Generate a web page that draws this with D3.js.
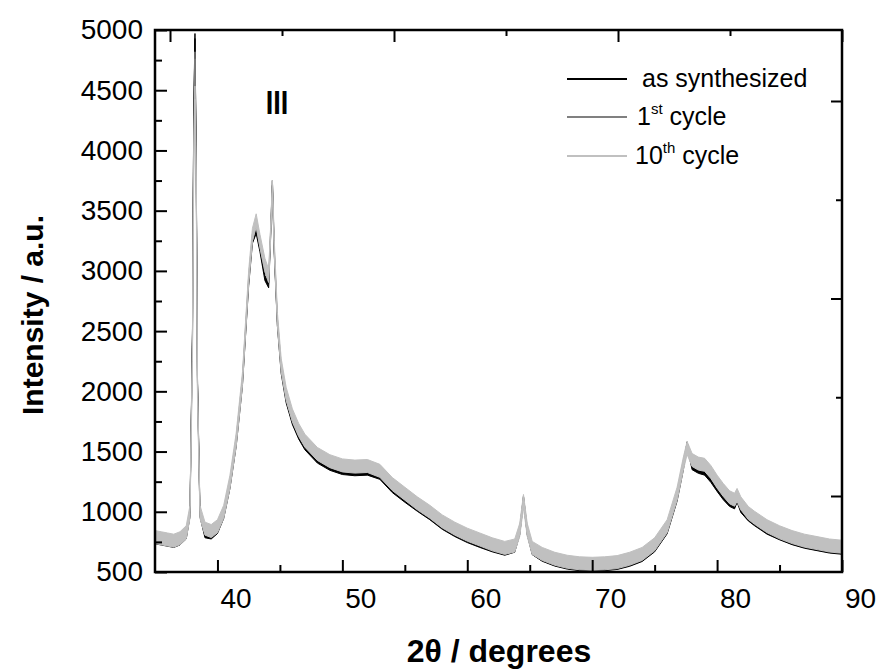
<!DOCTYPE html>
<html>
<head>
<meta charset="utf-8">
<script src="https://cdn.jsdelivr.net/npm/d3@7"></script>
<style>
    body { margin: 0; background: #fff; }
    svg { display: block; font-family: "Liberation Sans", Arial, sans-serif; }
    .tick-label { font-size: 28px; fill: #000; }
    .axis-title { font-size: 30px; font-weight: bold; fill: #000; }
    .legend-text { font-size: 25px; fill: #000; }
    .tick line { stroke: #000; stroke-width: 2px; }
</style>
</head>
<body>
<svg id="chart" width="882" height="671"></svg>
<script>
// diffraction angles (2 theta, degrees)
const angles = [35.0, 35.5, 36.0, 36.5, 37.0, 37.5, 37.8, 38.0, 38.1, 38.2,
    38.3, 38.4, 38.6, 39.0, 39.5, 40.0, 40.5, 41.0, 41.5, 42.0,
    42.5, 42.8, 43.1, 43.4, 43.8, 44.1, 44.25, 44.4, 44.55, 44.8,
    45.1, 45.5, 46.0, 46.5, 47.0, 48.0, 49.0, 50.0, 51.0, 52.0,
    53.0, 54.0, 55.0, 56.0, 57.0, 58.0, 59.0, 60.0, 61.0, 62.0,
    63.0, 63.8, 64.2, 64.5, 64.8, 65.2, 66.0, 67.0, 68.0, 69.0,
    70.0, 71.0, 72.0, 73.0, 74.0, 75.0, 76.0, 76.8, 77.3, 77.6,
    78.0, 78.5, 79.0, 79.5, 80.0, 80.5, 81.0, 81.4, 81.6, 81.9,
    82.5, 83.0, 84.0, 85.0, 86.0, 87.0, 88.0, 89.0, 90.0];

const asSynthesized = [755, 745, 735, 725, 745, 795, 980, 2500, 4300, 4950,
    3900, 2100, 980, 805, 795, 840, 965, 1215, 1565, 2065,
    2900, 3250, 3330, 3180, 2940, 2880, 3280, 3730, 3150, 2560,
    2170, 1925, 1745, 1625, 1535, 1425, 1365, 1330, 1320, 1325,
    1290, 1180, 1100, 1025, 955, 875, 815, 765, 725, 688,
    660, 685, 830, 1110, 830, 665, 610, 570, 545, 532,
    528, 532, 542, 568, 608, 688, 838, 1110, 1370, 1560,
    1370, 1340, 1325, 1265, 1190, 1120, 1065, 1045, 1100, 1015,
    945, 905, 835, 788, 748, 718, 698, 678, 668];

const cycle1 = [775, 765, 755, 745, 765, 815, 990, 2400, 4100, 4790,
    3800, 2050, 990, 845, 825, 865, 985, 1235, 1590, 2090,
    2930, 3280, 3400, 3220, 3020, 2930, 3300, 3720, 3180, 2580,
    2200, 1960, 1780, 1660, 1570, 1460, 1400, 1365, 1355, 1360,
    1320, 1210, 1130, 1050, 980, 900, 845, 795, 755, 715,
    688, 710, 845, 1100, 845, 690, 638, 598, 573, 560,
    556, 560, 570, 598, 638, 718, 868, 1140, 1395, 1545,
    1410, 1380, 1370, 1310, 1230, 1160, 1100, 1080, 1130, 1050,
    972, 932, 864, 815, 775, 745, 725, 705, 695];

const cycle10 = [790, 780, 770, 760, 780, 830, 1000, 2300, 3900, 4480,
    3700, 2000, 1000, 860, 840, 880, 1000, 1250, 1600, 2100,
    2950, 3300, 3420, 3250, 3050, 2960, 3300, 3700, 3200, 2600,
    2220, 1980, 1800, 1680, 1590, 1480, 1420, 1385, 1375, 1380,
    1340, 1230, 1150, 1070, 1000, 920, 860, 810, 770, 730,
    700, 720, 850, 1090, 850, 700, 650, 610, 585, 572,
    568, 572, 582, 610, 650, 730, 880, 1150, 1400, 1530,
    1430, 1400, 1390, 1330, 1250, 1180, 1120, 1100, 1140, 1070,
    990, 950, 880, 830, 790, 760, 740, 720, 710];

const seriesNames = ['as synthesized', '1', '10'];
const seriesSup = ['', 'st', 'th'];
const seriesColors = ['#000000', '#808080', '#c0c0c0'];

const xMajor = [40, 50, 60, 70, 80, 90];
const xMinor = [45, 55, 65, 75, 85];
const yMajor = d3.range(500, 5001, 500);
const yMinor = d3.range(750, 5000, 500);

class XrdChart {

    constructor(_config) {
        this.config = {
            parentElement: _config.parentElement,
            containerWidth: 882,
            containerHeight: 671,
            margin: { top: 30, right: 40, bottom: 99, left: 155 }
        };
        this.initVis();
    }

    initVis() {
        let vis = this;
        const m = vis.config.margin;
        vis.width = vis.config.containerWidth - m.left - m.right;
        vis.height = vis.config.containerHeight - m.top - m.bottom;

        vis.svg = d3.select(vis.config.parentElement);
        vis.chart = vis.svg.append('g')
            .attr('transform', `translate(${m.left},${m.top})`);

        vis.xScale = d3.scaleLinear().domain([35, 90]).range([0, vis.width]);
        vis.yScale = d3.scaleLinear().domain([500, 5000]).range([vis.height, 0]);

        // the frame ticks on top and right do not follow the bottom/left scales in the original
        vis.topScale = d3.scaleLinear().domain([28.66, 90]).range([0, vis.width]);
        vis.rightScale = d3.scaleLinear().domain([0, 4]).range([466, 71]);

        vis.chart.append('clipPath').attr('id', 'plot-clip')
            .append('rect').attr('width', vis.width).attr('height', vis.height);

        vis.renderVis();
    }

    renderVis() {
        let vis = this;

        // noisy traces drawn as thin bands, light grey on top
        const band = (h) => d3.area()
            .x((d, i) => vis.xScale(angles[i]))
            .y0(d => vis.yScale(d) + h)
            .y1(d => vis.yScale(d) - h);

        const plot = vis.chart.append('g').attr('clip-path', 'url(#plot-clip)');
        [asSynthesized, cycle1, cycle10].forEach((s, k) => {
            plot.append('path')
                .datum(s)
                .attr('fill', seriesColors[k])
                .attr('stroke', seriesColors[k])
                .attr('stroke-width', 1)
                .attr('d', band([2.5, 3.5, 6.5][k]));
        });

        // helper: tick marks pointing into the plot, labels drawn by a separate call
        const addAxis = (axis, tx, ty) => {
            const g = vis.chart.append('g')
                .attr('transform', `translate(${tx},${ty})`)
                .call(axis);
            g.select('.domain').remove();
            return g;
        };
        const addLabels = (axis, tx, ty) => {
            const g = addAxis(axis.tickSize(0), tx, ty);
            g.selectAll('.tick line').remove();
            g.selectAll('.tick text').attr('class', 'tick-label');
            return g;
        };

        // bottom axis
        addAxis(d3.axisBottom(vis.xScale).tickValues(xMajor).tickSize(-12).tickFormat(''), 0, vis.height);
        addAxis(d3.axisBottom(vis.xScale).tickValues(xMinor).tickSize(-7).tickFormat(''), 0, vis.height);
        addLabels(d3.axisBottom(vis.xScale).tickValues(xMajor).tickFormat(d3.format('d')).tickPadding(16), 0, vis.height)
            .selectAll('.tick text').attr('dx', 18);

        // left axis
        addAxis(d3.axisLeft(vis.yScale).tickValues(yMajor).tickSize(-12).tickFormat(''), 0, 0);
        addAxis(d3.axisLeft(vis.yScale).tickValues(yMinor).tickSize(-7).tickFormat(''), 0, 0);
        addLabels(d3.axisLeft(vis.yScale).tickValues(yMajor).tickFormat(d3.format('d')).tickPadding(12), 0, 0);

        // top axis (no labels)
        addAxis(d3.axisTop(vis.topScale).tickValues([30, 50, 70, 90]).tickSize(-12).tickFormat(''), 0, 0);
        addAxis(d3.axisTop(vis.topScale).tickValues([40, 60, 80]).tickSize(-6).tickFormat(''), 0, 0);

        // right axis (no labels)
        addAxis(d3.axisRight(vis.rightScale).tickValues([0, 2, 4]).tickSize(-11).tickFormat(''), vis.width, 0);
        addAxis(d3.axisRight(vis.rightScale).tickValues([1, 3]).tickSize(-6).tickFormat(''), vis.width, 0);

        // frame
        vis.chart.append('rect')
            .attr('width', vis.width)
            .attr('height', vis.height)
            .attr('fill', 'none')
            .attr('stroke', '#000')
            .attr('stroke-width', 2.5);

        // axis titles
        vis.svg.append('text')
            .attr('class', 'axis-title')
            .attr('text-anchor', 'middle')
            .attr('transform', 'translate(43,315) rotate(-90)')
            .text('Intensity / a.u.');

        vis.svg.append('text')
            .attr('class', 'axis-title')
            .attr('text-anchor', 'middle')
            .attr('x', 499)
            .attr('y', 662)
            .style('font-size', '32px')
            .text('2θ / degrees');

        // panel label
        vis.chart.append('text')
            .attr('x', 122)
            .attr('y', 84)
            .attr('text-anchor', 'middle')
            .style('font-size', '33px')
            .style('font-weight', 'bold')
            .attr('transform', 'translate(122,0) scale(0.82,1) translate(-122,0)')
            .text('III');

        // legend
        const legend = vis.svg.append('g');
        const rowsY = [79, 117, 156];
        const textX = [642, 637, 635];
        seriesNames.forEach((name, i) => {
            legend.append('line')
                .attr('x1', 567).attr('x2', 627)
                .attr('y1', rowsY[i]).attr('y2', rowsY[i])
                .attr('stroke', seriesColors[i])
                .attr('stroke-width', 2);
            const t = legend.append('text')
                .attr('class', 'legend-text')
                .attr('x', textX[i])
                .attr('y', rowsY[i] + 8)
                .text(name);
            if (seriesSup[i]) {
                t.append('tspan')
                    .attr('dy', -11)
                    .style('font-size', '15px')
                    .text(seriesSup[i]);
                t.append('tspan')
                    .attr('dy', 11)
                    .text(' cycle');
            }
        });
    }
}

new XrdChart({ parentElement: '#chart' });
</script>
</body>
</html>
